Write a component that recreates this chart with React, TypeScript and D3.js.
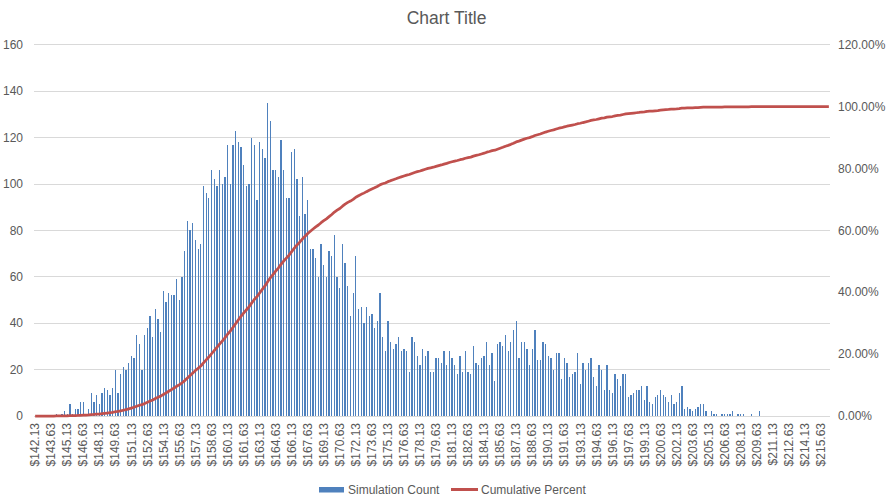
import React from "react";
import * as d3 from "d3";

// simulation histogram, one bin every $0.25 starting at $142.13
const simulationCounts = [
  0, 0, 0, 0, 0, 0, 0, 0,
  1, 0, 1, 2, 1, 5, 1, 3, 3, 6, 6, 1, 3, 10, 6, 9, 5, 10, 12, 11, 9, 12,
  20, 10, 18, 21, 20, 23, 26, 25, 35, 31, 20, 35, 38, 43, 34, 46, 42, 36, 54, 49, 53, 52, 52, 59, 50, 60,
  71, 84, 80, 83, 76, 72, 74, 99, 96, 94, 106, 102, 99, 106, 100, 103, 117, 100, 117, 123, 118, 116, 108,
  99, 100, 120, 117, 93, 118, 115, 111, 135, 127, 106, 106, 103, 119, 106, 94, 94, 114, 115, 102, 86, 103, 87, 93, 72, 72, 68, 60, 74, 65, 60, 71,
  69, 78, 60, 55, 74, 66, 56, 43, 53, 69, 46, 47, 40, 47, 43, 44, 38, 41, 53, 34, 28, 41, 32, 29, 31, 34, 28, 29, 28, 19,
  34, 32, 26, 22, 29, 26, 28, 19, 19, 25, 25, 23, 28, 22, 28, 25, 22, 18, 26, 19, 28,
  19, 18, 30, 23, 22, 25, 26, 32, 22, 27, 15, 31, 32, 30, 35, 28, 32, 37, 41, 25, 32, 32, 29, 22, 29, 37, 24, 24, 32, 31,
  26, 25, 20, 27, 27, 16, 25, 23, 17, 18, 19, 27, 14, 23, 20, 23, 25, 17, 13, 22, 20, 11, 22, 11, 10, 18, 16, 13,
  18, 18, 8, 9, 10, 11, 11, 13, 7, 13, 6, 5, 8, 9, 11, 9, 8, 6, 9, 5, 6, 10, 13, 3, 4, 3, 2, 3, 4, 5,
  5, 2, 0, 2, 1, 1, 0, 1, 1, 1, 1, 2, 0, 1, 1, 1, 0, 0, 1, 0, 0, 2,
  0, 0, 0, 0, 0, 0, 0, 0, 0, 0, 0, 0, 0, 0, 0, 0, 0, 0, 0, 0, 0, 0, 0, 0, 0, 0,
];

// only every 6th bin gets a label on the category axis
const tickLabels = [
  "$142.13", "$143.63", "$145.13", "$146.63", "$148.13", "$149.63", "$151.13", "$152.63", "$154.13", "$155.63",
  "$157.13", "$158.63", "$160.13", "$161.63", "$163.13", "$164.63", "$166.13", "$167.63", "$169.13", "$170.63",
  "$172.13", "$173.63", "$175.13", "$176.63", "$178.13", "$179.63", "$181.13", "$182.63", "$184.13", "$185.63",
  "$187.13", "$188.63", "$190.13", "$191.63", "$193.13", "$194.63", "$196.13", "$197.63", "$199.13", "$200.63",
  "$202.13", "$203.63", "$205.13", "$206.63", "$208.13", "$209.63", "$211.13", "$212.63", "$214.13", "$215.63",
];
const labelEvery = 6;

const countTicks = [0, 20, 40, 60, 80, 100, 120, 140, 160];
const percentTicks = [0, 0.2, 0.4, 0.6, 0.8, 1.0, 1.2];

const width = 893;
const height = 504;
const FONT = "'Liberation Sans', Arial, sans-serif";
const TEXT = "#595959";
const BLUE = "#4F81BD";
const RED = "#C0504D";

const App = () => {
  const left = 33.8, right = 830.2, top = 44.8, bottom = 416;

  const x = d3.scaleBand<number>()
    .domain(simulationCounts.map((_, i) => i))
    .range([left, right]);
  const cx = (i: number) => (x(i) as number) + x.bandwidth() / 2;

  const yCount = d3.scaleLinear().domain([0, 160]).range([bottom, top]);
  const yPct = d3.scaleLinear().domain([0, 1.2]).range([bottom, top]);

  // cumulative percent of the simulation counts
  const total = d3.sum(simulationCounts);
  const running = d3.cumsum(simulationCounts);
  const cumulative = Array.from(running, v => v / total);

  const line = d3.line<number>()
    .x((_, i) => cx(i))
    .y(d => yPct(d));

  const pctFmt = d3.format(".2%");

  return (
    <svg width={width} height={height}
         style={{position: "absolute", left: 0, top: 0, background: "white"}}
         fontFamily={FONT}>
      <text x={width / 2} y={24} textAnchor="middle" fontSize={17.5} fill={TEXT}>Chart Title</text>

      {countTicks.map(t => (
        <g key={"g" + t}>
          {t > 0 &&
            <line x1={left} x2={right} y1={yCount(t)} y2={yCount(t)}
                  stroke="#D9D9D9" strokeWidth={1} shapeRendering="crispEdges"/>}
          <text x={23} y={yCount(t)} dy="0.35em" textAnchor="end" fontSize={12} fill={TEXT}>{t}</text>
        </g>
      ))}

      {percentTicks.map(p => (
        <text key={"p" + p} x={838} y={yPct(p)} dy="0.35em" fontSize={12} fill={TEXT}>{pctFmt(p)}</text>
      ))}

      {simulationCounts.map((c, i) => c > 0 && (
        <rect key={"b" + i} x={cx(i) - 0.65} width={1.3}
              y={yCount(c)} height={bottom - yCount(c)}
              fill={BLUE} shapeRendering="crispEdges"/>
      ))}

      <line x1={left} x2={right} y1={bottom} y2={bottom}
            stroke="#D9D9D9" strokeWidth={1} shapeRendering="crispEdges"/>

      <path d={line(cumulative) || ""} fill="none" stroke={RED} strokeWidth={2.75}
            strokeLinejoin="round"/>

      {tickLabels.map((t, k) => {
        const px = cx(k * labelEvery);
        return (
          <text key={"x" + k} x={px} y={423} dy="0.35em" textAnchor="end"
                transform={`rotate(-90, ${px}, 423)`} fontSize={12} fill={TEXT}>{t}</text>
        );
      })}

      <g>
        <rect x={319} y={487} width={25} height={5.5} fill={BLUE}/>
        <text x={348} y={493.5} fontSize={12} fill={TEXT}>Simulation Count</text>
        <line x1={451} x2={478} y1={489.5} y2={489.5} stroke={RED} strokeWidth={3}/>
        <text x={481} y={493.5} fontSize={12} fill={TEXT}>Cumulative Percent</text>
      </g>
    </svg>
  );
};

export default App;
